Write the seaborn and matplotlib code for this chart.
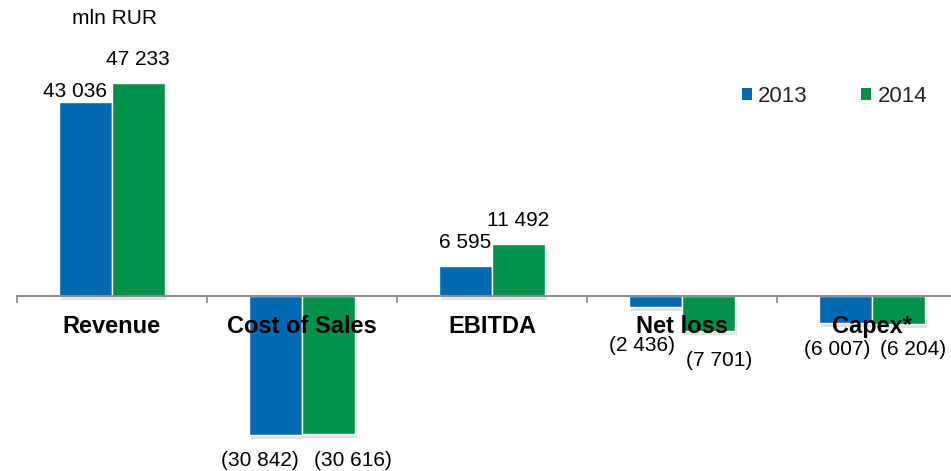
import matplotlib
matplotlib.use("Agg")
import matplotlib.pyplot as plt
import matplotlib.patheffects as pe
from matplotlib.patches import Patch
from matplotlib.ticker import FixedLocator
import pandas as pd
import seaborn as sns

# Key financials, mln RUR
metrics = ["Revenue", "Cost of Sales", "EBITDA", "Net loss", "Capex*"]
years = ["2013", "2014"]
values_2013 = [43036, -30842, 6595, -2436, -6007]
values_2014 = [47233, -30616, 11492, -7701, -6204]

colors = {"2013": "#0069B4", "2014": "#00924A"}

# Label offsets (pixels) from the end of each bar, per year
label_offsets = {
    "2013": [(-10.5, 10.5), (-15.5, -25.5), (0, 24), (-13.5, -38.5), (-8, -26.5)],
    "2014": [(-0.5, 23.5), (24, -27), (0, 23.5), (10.5, -30), (14.5, -25.5)],
}

df = pd.DataFrame({
    "metric": metrics * 2,
    "year": [years[0]] * len(metrics) + [years[1]] * len(metrics),
    "value": values_2013 + values_2014,
})

sns.set_theme(style="white")
plt.rcParams["font.family"] = ["Liberation Sans", "DejaVu Sans"]

fig = plt.figure(figsize=(9.51, 4.71), dpi=100)
ax = fig.add_axes([0, 0, 1, 1])

sns.barplot(
    data=df, x="metric", y="value", hue="year", order=metrics, hue_order=years,
    palette=colors, saturation=1, width=0.56, edgecolor="white", linewidth=1.0,
    legend=False, ax=ax,
)

shadow = [pe.SimplePatchShadow(offset=(1.5, -3), shadow_rgbFace="#a0a0a0", alpha=0.3),
          pe.Normal()]


def fmt(v):
    s = f"{abs(v):,}".replace(",", " ")
    return f"({s})" if v < 0 else s


for year, container in zip(years, ax.containers):
    for i, bar in enumerate(container.patches):
        bar.set_path_effects(shadow)
        bar.set_zorder(1)
        v = bar.get_height()
        xc = bar.get_x() + bar.get_width() / 2
        dx, dy = label_offsets[year][i]
        ax.annotate(fmt(int(round(v))), xy=(xc, v), xytext=(dx, dy),
                    textcoords="offset pixels", ha="center", va="center",
                    fontsize=15, color="black")

ax.set_xlim(-0.589, 4.416)
ax.set_ylim(-38889, 65778)

# Axis line at zero with short ticks between categories
for side in ["top", "right", "left"]:
    ax.spines[side].set_visible(False)
ax.spines["bottom"].set_position(("data", 0))
ax.spines["bottom"].set_bounds(-0.5, 4.416)
ax.spines["bottom"].set_color("#8c8c8c")
ax.spines["bottom"].set_linewidth(1.4)
ax.spines["bottom"].set_zorder(3)
ax.xaxis.set_zorder(4)

ax.set_yticks([])
ax.set_xlabel("")
ax.set_ylabel("")
ax.set_xticks(range(len(metrics)))
ax.set_xticklabels(metrics, fontsize=17, fontweight="bold", color="black")
ax.tick_params(axis="x", which="major", length=0, pad=14)
ax.xaxis.set_minor_locator(FixedLocator([-0.5, 0.5, 1.5, 2.5, 3.5]))
ax.tick_params(axis="x", which="minor", length=5, width=1.2, color="#8c8c8c",
               direction="out", bottom=True)

ax.text(114 / 951, 1 - 19 / 471, "mln RUR", transform=ax.transAxes,
        ha="center", va="center", fontsize=15, color="black")

handles = [Patch(facecolor=colors[y], edgecolor="none") for y in years]
ax.legend(handles, years, loc="center left",
          bbox_to_anchor=(741.7 / 951, 1 - 96 / 471), ncol=2, frameon=False,
          fontsize=16, handlelength=0.45, handleheight=0.45,
          handletextpad=0.3, columnspacing=2.4, borderpad=0, borderaxespad=0)

fig.savefig("out.png", dpi=100)
